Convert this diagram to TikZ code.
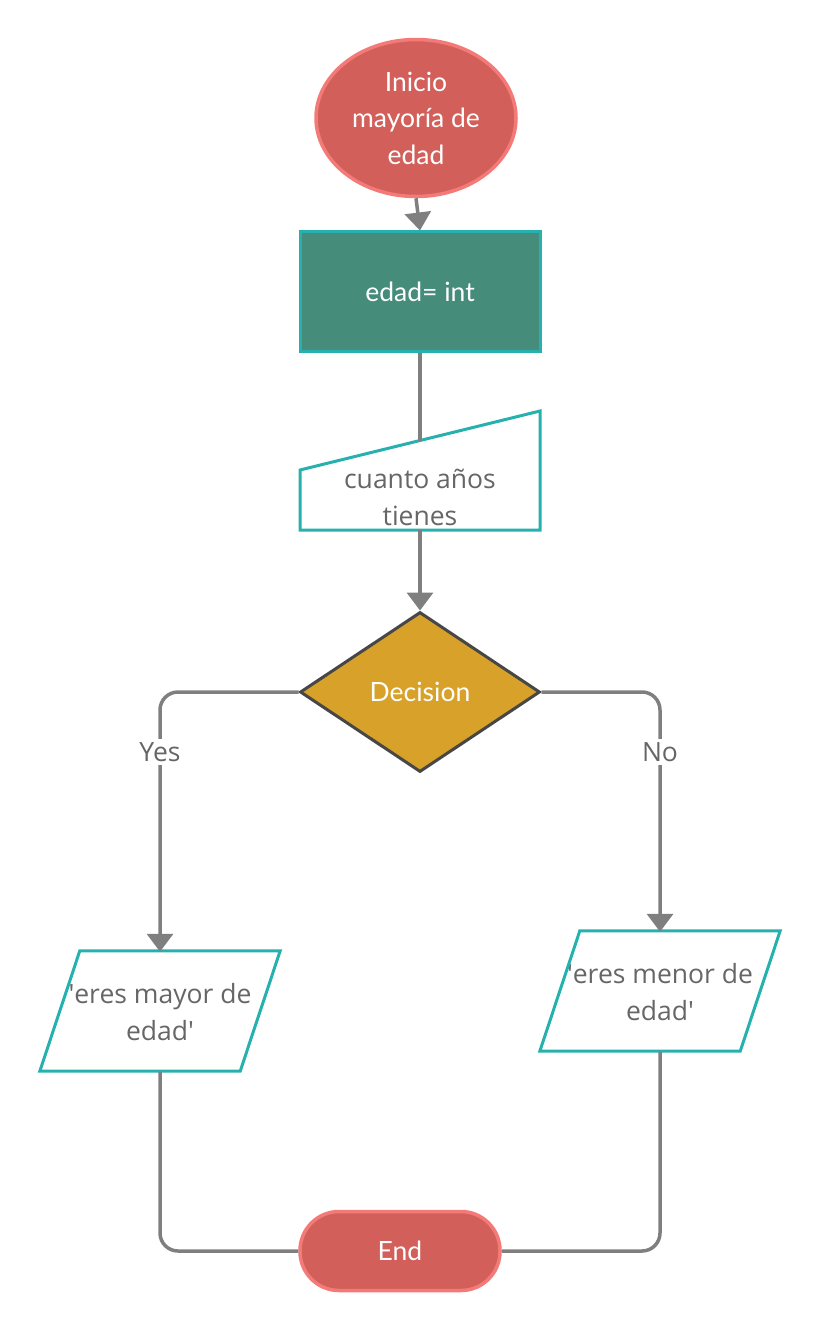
\documentclass[tikz,border=0pt]{standalone}
\usepackage{fontspec}
\setmainfont{Open Sans}
\newfontfamily\latofont{Lato}
\usetikzlibrary{shapes.geometric,arrows.meta,calc}

\definecolor{termfill}{HTML}{D35F5A}
\definecolor{termedge}{HTML}{F47A78}
\definecolor{procfill}{HTML}{458C7B}
\definecolor{tealedge}{HTML}{27B1AE}
\definecolor{decfill}{HTML}{D8A129}
\definecolor{decedge}{HTML}{474747}
\definecolor{linegrey}{HTML}{7F7F7F}
\definecolor{textgrey}{HTML}{666666}

\tikzset{
  whitetext/.style={text=white, font=\latofont\fontsize{26.5}{36.5}\selectfont, align=center},
  greytext/.style={text=textgrey, font=\fontsize{26.5}{37}\selectfont, align=center},
  terminal/.style={whitetext, fill=termfill, draw=termedge, line width=3.5pt, inner sep=0pt},
  flow/.style={draw=linegrey, line width=3.5pt, -{Triangle[width=26pt,length=18pt]}},
  link/.style={draw=linegrey, line width=3.5pt, rounded corners=18pt},
  box/.style={minimum width=#1, minimum height=120pt, inner sep=0pt},
  branchlabel/.style={greytext, fill=white, inner sep=3pt}
}

\begin{document}
\begin{tikzpicture}[x=1pt,y=-1pt]
\useasboundingbox (0,0) rectangle (820,1332);

% start and end
\node[terminal, ellipse, minimum width=200pt, minimum height=157pt] (init) at (416,118) {Inicio\\mayoría de\\edad};
\node[terminal, rectangle, rounded corners=39pt, minimum width=200pt, minimum height=79pt] (fin) at (400,1251) {End};

% process
\node[whitetext, box=240pt, minimum height=119pt, fill=procfill, draw=tealedge, line width=3pt] (proc) at (420,291.5) {edad= int};

% manual input
\coordinate (askin) at (420,441);
\draw[tealedge, line width=3pt, fill=white] (300,530) -- (540,530) -- (540,411) -- (300,470) -- cycle;
\node[greytext] (ask) at (420,497.5) {cuanto años\\tienes};

% decision
\node[whitetext, diamond, aspect=1.5, minimum width=240pt, minimum height=160pt, inner sep=0pt,
      fill=decfill, draw=decedge, line width=3pt] (dec) at (420,692) {Decision};

% outputs
\node[greytext, box=200pt] (mayor) at (160,1012) {\textquotesingle eres mayor de\\edad\textquotesingle};
\node[greytext, box=200pt] (menor) at (660,992) {\textquotesingle eres menor de\\edad\textquotesingle};
\foreach \p in {mayor,menor}
  \draw[tealedge, line width=3pt]
    ($(\p.north west)+(20,-1)$) -- ($(\p.north east)+(20,-1)$) --
    ($(\p.south east)+(-20,-1)$) -- ($(\p.south west)+(-20,-1)$) -- cycle;

% connectors
\draw[flow] (init.south) -- (proc.north);
\draw[link] (proc.south) -- (askin);
\draw[flow] (420,530) -- (dec.north);
\draw[link, flow] (dec.west) -| (mayor.north);
\draw[link, flow] (dec.east) -| (menor.north);
\draw[link] (mayor.south) |- (fin.west);
\draw[link] (menor.south) |- (fin.east);

\node[branchlabel] (yes) at (160,752) {Yes};
\node[branchlabel] (no) at (660,752) {No};
\end{tikzpicture}
\end{document}
